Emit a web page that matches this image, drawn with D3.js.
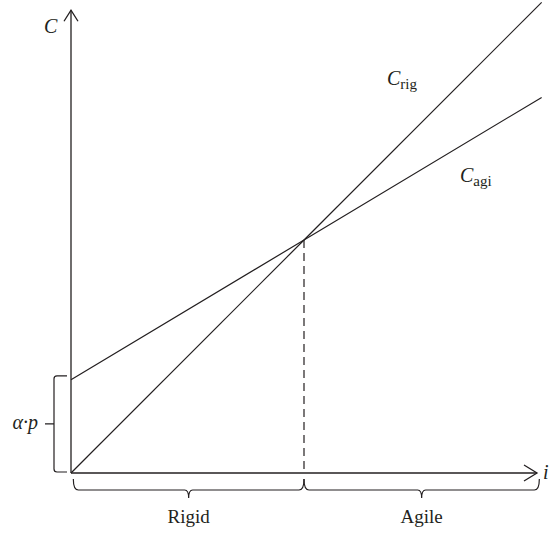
<!DOCTYPE html>
<html>
<head>
<meta charset="utf-8">
<script src="https://cdn.jsdelivr.net/npm/d3@7"></script>
<style>
  body { margin: 0; background: white; }
  text { font-family: "Liberation Serif", "DejaVu Serif", serif; fill: #231f20; }
</style>
</head>
<body>
<div id="canvas"></div>
<script>
var w = 552;
var h = 535;
var ink = "#231f20";

// cost lines, values (same units on both axes)
var iValues = [0, 5, 10.1];
var cRig = [0, 5, 10.1];
var cAgi = [2, 5, 8.06];
var alphaP = 2;      // intercept of C_agi
var iStar = 5;       // break-even point
var regions = [
    {name: "Rigid", from: 0.05, to: 5},
    {name: "Agile", from: 5, to: 10.05}
];
var iMax = 10;
var cMax = 9.93;

var x = d3.scaleLinear().domain([0, 10]).range([71, 537]);
var y = d3.scaleLinear().domain([0, 10]).range([473, 7]);

var canvas = d3.select("#canvas")
    .append("svg")
    .attr("width", w)
    .attr("height", h);

var line = d3.line()
    .x(function(d) { return x(d[0]); })
    .y(function(d) { return y(d[1]); });

// axes with open arrow heads
canvas.append("path")
    .attr("d", line([[0, 0], [0, cMax]]))
    .attr("stroke", ink).attr("stroke-width", 1.3).attr("fill", "none");
canvas.append("path")
    .attr("d", line([[0, 0], [iMax, 0]]))
    .attr("stroke", ink).attr("stroke-width", 1.3).attr("fill", "none");

var yTip = [x(0), y(cMax)];
canvas.append("path")
    .attr("d", "M" + (yTip[0] - 7) + "," + (yTip[1] + 11) + "L" + yTip[0] + "," + yTip[1] + "L" + (yTip[0] + 7) + "," + (yTip[1] + 11))
    .attr("stroke", ink).attr("stroke-width", 1.3).attr("fill", "none");
var xTip = [x(iMax), y(0)];
canvas.append("path")
    .attr("d", "M" + (xTip[0] - 13) + "," + (xTip[1] - 8) + "L" + xTip[0] + "," + xTip[1] + "L" + (xTip[0] - 13) + "," + (xTip[1] + 8))
    .attr("stroke", ink).attr("stroke-width", 1.3).attr("fill", "none");

// the two cost lines
[cRig, cAgi].forEach(function(series) {
    canvas.append("path")
        .attr("d", line(iValues.map(function(v, k) { return [v, series[k]]; })))
        .attr("stroke", ink)
        .attr("stroke-width", 1.2)
        .attr("fill", "none");
});

// dashed drop at the break-even point
canvas.append("path")
    .attr("d", line([[iStar, cRig[1]], [iStar, 0]]))
    .attr("stroke", ink)
    .attr("stroke-width", 1.2)
    .attr("stroke-dasharray", "8,5")
    .attr("fill", "none");

// braces under the i axis
regions.forEach(function(r) {
    var x0 = x(r.from), x1 = x(r.to), m = (x0 + x1) / 2;
    var top = y(0) + 6, mid = y(0) + 17, tip = y(0) + 25;
    var p = "M" + x0 + "," + top +
        "Q" + x0 + "," + mid + " " + (x0 + 5) + "," + mid +
        "L" + (m - 4) + "," + mid +
        "Q" + m + "," + mid + " " + m + "," + tip +
        "Q" + m + "," + mid + " " + (m + 4) + "," + mid +
        "L" + (x1 - 5) + "," + mid +
        "Q" + x1 + "," + mid + " " + x1 + "," + top;
    canvas.append("path")
        .attr("d", p)
        .attr("stroke", ink).attr("stroke-width", 1.2).attr("fill", "none");
    canvas.append("text")
        .attr("x", m)
        .attr("y", y(0) + 50)
        .attr("text-anchor", "middle")
        .style("font-size", "19px")
        .text(r.name);
});

// bracket for alpha*p on the C axis
var bx = x(0) - 17, by0 = y(alphaP) - 4, by1 = y(0) - 1, bm = (by0 + by1) / 2;
canvas.append("path")
    .attr("d", "M" + (x(0) - 4) + "," + by0 + "L" + (bx + 3) + "," + by0 +
        "Q" + bx + "," + by0 + " " + bx + "," + (by0 + 3) +
        "L" + bx + "," + (by1 - 3) +
        "Q" + bx + "," + by1 + " " + (bx + 3) + "," + by1 +
        "L" + (x(0) - 4) + "," + by1 +
        "M" + bx + "," + bm + "L" + (bx - 9) + "," + bm)
    .attr("stroke", ink).attr("stroke-width", 1.2).attr("fill", "none");
canvas.append("text")
    .attr("x", bx - 16)
    .attr("y", bm + 5)
    .attr("text-anchor", "end")
    .style("font-size", "20px")
    .style("font-style", "italic")
    .text("α·p");

// axis names
canvas.append("text")
    .attr("x", 44).attr("y", 33)
    .style("font-size", "20px").style("font-style", "italic")
    .text("C");
canvas.append("text")
    .attr("x", 543).attr("y", 479)
    .style("font-size", "20px").style("font-style", "italic")
    .text("i");

// line labels
function subLabel(px, py, sub) {
    var t = canvas.append("text").attr("x", px).attr("y", py);
    t.append("tspan").style("font-size", "20px").style("font-style", "italic").text("C");
    t.append("tspan").attr("dy", 4).style("font-size", "15px").text(sub);
}
subLabel(387, 85, "rig");
subLabel(460, 182, "agi");
</script>
</body>
</html>
